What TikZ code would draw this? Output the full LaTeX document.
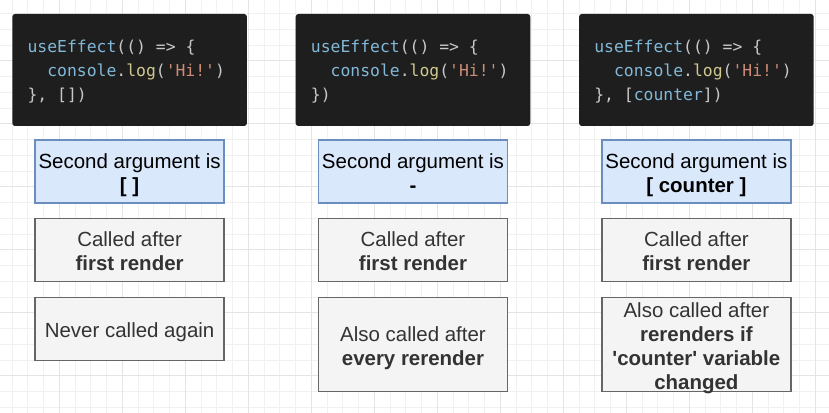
\documentclass[tikz,border=0pt]{standalone}
\usepackage{fontspec}
\setmainfont{Liberation Sans}
\setmonofont{DejaVu Sans Mono}

\definecolor{codebg}{HTML}{1E1E1E}
\definecolor{codevar}{HTML}{82B8D8}
\definecolor{codefun}{HTML}{D0C88E}
\definecolor{codestr}{HTML}{CC8C76}
\definecolor{codepunct}{HTML}{C8C8C8}
\definecolor{argfill}{HTML}{DAE8FC}
\definecolor{argline}{HTML}{6C8EBF}
\definecolor{notefill}{HTML}{F4F4F4}
\definecolor{noteline}{HTML}{666666}
\definecolor{notetext}{HTML}{333333}
\definecolor{gridminor}{HTML}{F1F1F1}
\definecolor{gridmajor}{HTML}{E4E4E4}

\newcommand{\cvar}[1]{\textcolor{codevar}{#1}}
\newcommand{\cfun}[1]{\textcolor{codefun}{#1}}
\newcommand{\cstr}[1]{\textcolor{codestr}{#1}}
\newcommand{\sq}{\textquotesingle}

\begin{document}
\begin{tikzpicture}[x=0.75pt,y=-0.75pt,
  gridthin/.style={draw=gridminor,line width=0.6pt},
  gridthick/.style={draw=gridmajor,line width=0.75pt},
  codebox/.style={fill=codebg,rounded corners=2pt,minimum width=175.9pt,minimum height=84pt,inner sep=0pt},
  codeline/.style={anchor=base west,inner sep=0pt,text=codepunct,font=\ttfamily\fontsize{12.3}{14}\selectfont},
  box/.style={line width=1pt,minimum width=141.75pt,minimum height=47.25pt,inner sep=0pt,align=center,
    text height=13.9pt,text depth=1pt,font=\fontsize{15.35}{18}\selectfont},
  twolines/.style={text height=31.9pt},
  fourlines/.style={text height=67.9pt},
  argbox/.style={box,twolines,draw=argline,fill=argfill,text=black},
  notebox/.style={box,draw=noteline,fill=notefill,text=notetext},
  tallbox/.style={notebox,minimum height=70.9pt}]
\useasboundingbox (0,0) rectangle (829,413);
\fill[white] (0,0) rectangle (829,413);
% background grid
\foreach \i in {1,...,53}
  \draw[gridthin] (-3.7+15.75*\i,0) -- (-3.7+15.75*\i,413);
\foreach \j in {1,...,26}
  \draw[gridthin] (0,-2.3+15.75*\j) -- (829,-2.3+15.75*\j);
\foreach \i in {4,8,...,52}
  \draw[gridthick] (-3.7+15.75*\i,0) -- (-3.7+15.75*\i,413);
\foreach \j in {4,8,...,24}
  \draw[gridthick] (0,-2.3+15.75*\j) -- (829,-2.3+15.75*\j);

% code snippets
\node[codebox] (code1) at (129.6,70) {};
\node[codebox] (code2) at (413,70) {};
\node[codebox] (code3) at (696.4,70) {};
\node[codeline] (code1a) at (27.3,52.3) {\cvar{useEffect}(() => \{};
\node[codeline] (code1b) at (47,76.2) {\cvar{console}.\cfun{log}(\cstr{\sq Hi!\sq})};
\node[codeline] (code1c) at (27.3,100.1) {\}, [])};
\node[codeline] (code2a) at (310.7,52.3) {\cvar{useEffect}(() => \{};
\node[codeline] (code2b) at (330.4,76.2) {\cvar{console}.\cfun{log}(\cstr{\sq Hi!\sq})};
\node[codeline] (code2c) at (310.7,100.1) {\})};
\node[codeline] (code3a) at (594.1,52.3) {\cvar{useEffect}(() => \{};
\node[codeline] (code3b) at (613.8,76.2) {\cvar{console}.\cfun{log}(\cstr{\sq Hi!\sq})};
\node[codeline] (code3c) at (594.1,100.1) {\}, [\cvar{counter}])};

% second argument
\node[argbox] (arg1) at (129.6,171.5) {Second argument is\\\textbf{[ ]}};
\node[argbox] (arg2) at (413,171.5) {Second argument is\\\textbf{-}};
\node[argbox] (arg3) at (696.4,171.5) {Second argument is\\\textbf{[ counter ]}};

% first render
\node[notebox,twolines] (first1) at (129.6,250) {Called after\\\textbf{first render}};
\node[notebox,twolines] (first2) at (413,250) {Called after\\\textbf{first render}};
\node[notebox,twolines] (first3) at (696.4,250) {Called after\\\textbf{first render}};

% later renders
\node[notebox] (again1) at (129.6,328.7) {Never called again};
\node[tallbox,twolines] (again2) at (413,344.5) {Also called after\\\textbf{every rerender}};
\node[tallbox,fourlines] (again3) at (696.4,344.5) {Also called after\\\textbf{rerenders if}\\\textbf{\sq counter\sq{} variable}\\\textbf{changed}};
\end{tikzpicture}
\end{document}
